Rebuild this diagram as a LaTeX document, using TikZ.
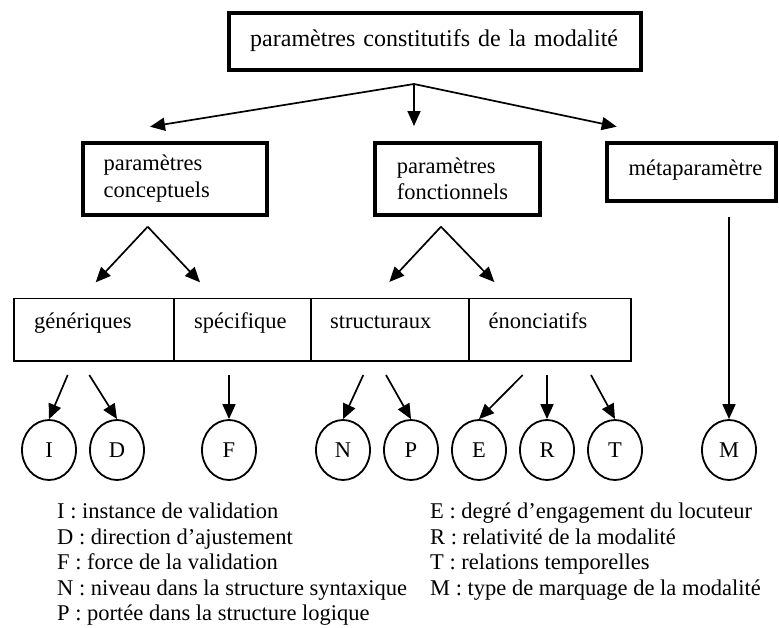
\documentclass[tikz,border=0pt]{standalone}
\usepackage{fontspec}
\setmainfont{Liberation Serif}
\usetikzlibrary{arrows.meta,shapes.geometric}
\begin{document}
\begin{tikzpicture}[x=1pt,y=-1pt,
  txt/.style={font=\fontsize{22.5}{26.6}\selectfont},
  thickbox/.style={txt, draw, line width=3.8pt, anchor=north west, align=left, inner ysep=0pt},
  cell/.style={txt, draw, line width=1.7pt, anchor=north west, align=left, inner ysep=0pt,
    minimum height=62.3pt, text height=15pt, text depth=16.7pt},
  circ/.style={txt, ellipse, draw, line width=1.8pt, minimum width=54pt, minimum height=60pt, inner sep=0pt},
  arr/.style={line width=1.7pt, -{Triangle[length=15pt,width=13pt]}},
  leg/.style={txt, anchor=base west, inner sep=0pt}
]
\useasboundingbox (0,0) rectangle (779,627);

% top box
\node[thickbox, font=\fontsize{24}{28}\selectfont, minimum width=412.3pt, minimum height=57.3pt,
  text width=369.1pt, text height=16pt, text depth=5.5pt] (top) at (226.7,11)
  {\mbox{paramètres constitutifs de la modalité}};

% second row
\node[thickbox, minimum width=184pt, minimum height=72pt, text width=142pt] (conc) at (80.7,140.7)
  {paramètres\\conceptuels};
\node[thickbox, minimum width=165pt, minimum height=72pt, text width=121.6pt] (fonc) at (373.3,140.7)
  {paramètres\\fonctionnels};
\node[thickbox, minimum width=169pt, minimum height=58.6pt, text width=125.6pt,
  text height=13.5pt, text depth=7pt] (meta) at (605,140.7) {\mbox{métaparamètre}};

% third row
\node[cell, minimum width=160pt, text width=120pt] (gen) at (13.3,297.7) {génériques};
\node[cell, minimum width=136.7pt, text width=96.7pt] (spec) at (173.3,297.7) {\mbox{spécifique}};
\node[cell, minimum width=158.3pt, text width=119.7pt] (struc) at (310,297.7) {structuraux};
\node[cell, minimum width=161.7pt, text width=122.9pt] (enon) at (468.3,297.7) {énonciatifs};

% circles
\node[circ] (I) at (49,450) {I};
\node[circ] (D) at (117,450) {D};
\node[circ] (F) at (229,450) {F};
\node[circ] (N) at (343,450) {N};
\node[circ] (P) at (411,450) {P};
\node[circ] (E) at (479,450) {E};
\node[circ] (R) at (547,450) {R};
\node[circ] (T) at (615,450) {T};
\node[circ] (M) at (729,450) {M};

% arrow coordinates
\coordinate (hub) at (414,84);
\coordinate (t1) at (150,126.7);
\coordinate (t2) at (414,126);
\coordinate (t3) at (616.7,126.7);
\coordinate (pc) at (147.7,226.7);
\coordinate (tc1) at (95.7,282.3);
\coordinate (tc2) at (200,282.3);
\coordinate (pf) at (441,226.7);
\coordinate (tf1) at (389.3,282);
\coordinate (tf2) at (494.3,282);
\coordinate (sI) at (67.7,375);
\coordinate (sD) at (89.3,375);
\coordinate (sF) at (229,375);
\coordinate (sN) at (363.3,375);
\coordinate (sP) at (386,375);
\coordinate (sE) at (522.7,375);
\coordinate (sR) at (547,375);
\coordinate (sT) at (591,375);
\coordinate (sM) at (729,216.7);

\draw[arr] (hub) -- (t1);
\draw[arr] (hub) -- (t2);
\draw[arr] (hub) -- (t3);
\draw[arr] (pc) -- (tc1);
\draw[arr] (pc) -- (tc2);
\draw[arr] (pf) -- (tf1);
\draw[arr] (pf) -- (tf2);
\draw[arr] (sI) -- (I.north);
\draw[arr] (sD) -- (D.north);
\draw[arr] (sF) -- (F.north);
\draw[arr] (sN) -- (N.north);
\draw[arr] (sP) -- (P.north);
\draw[arr] (sE) -- (E.north);
\draw[arr] (sR) -- (R.north);
\draw[arr] (sT) -- (T.north);
\draw[arr] (sM) -- (M.north);

% legend
\node[leg] (lI) at (57,518.5) {I : instance de validation};
\node[leg] (lD) at (57,544) {D : direction d’ajustement};
\node[leg] (lF) at (57,569.5) {F : force de la validation};
\node[leg] (lN) at (57,595) {N : niveau dans la structure syntaxique};
\node[leg] (lP) at (57,620.5) {P : portée dans la structure logique};
\node[leg] (lE) at (430,518.5) {E : degré d’engagement du locuteur};
\node[leg] (lR) at (430,544) {R : relativité de la modalité};
\node[leg] (lT) at (430,569.5) {T : relations temporelles};
\node[leg] (lM) at (430,595) {M : type de marquage de la modalité};
\end{tikzpicture}
\end{document}
